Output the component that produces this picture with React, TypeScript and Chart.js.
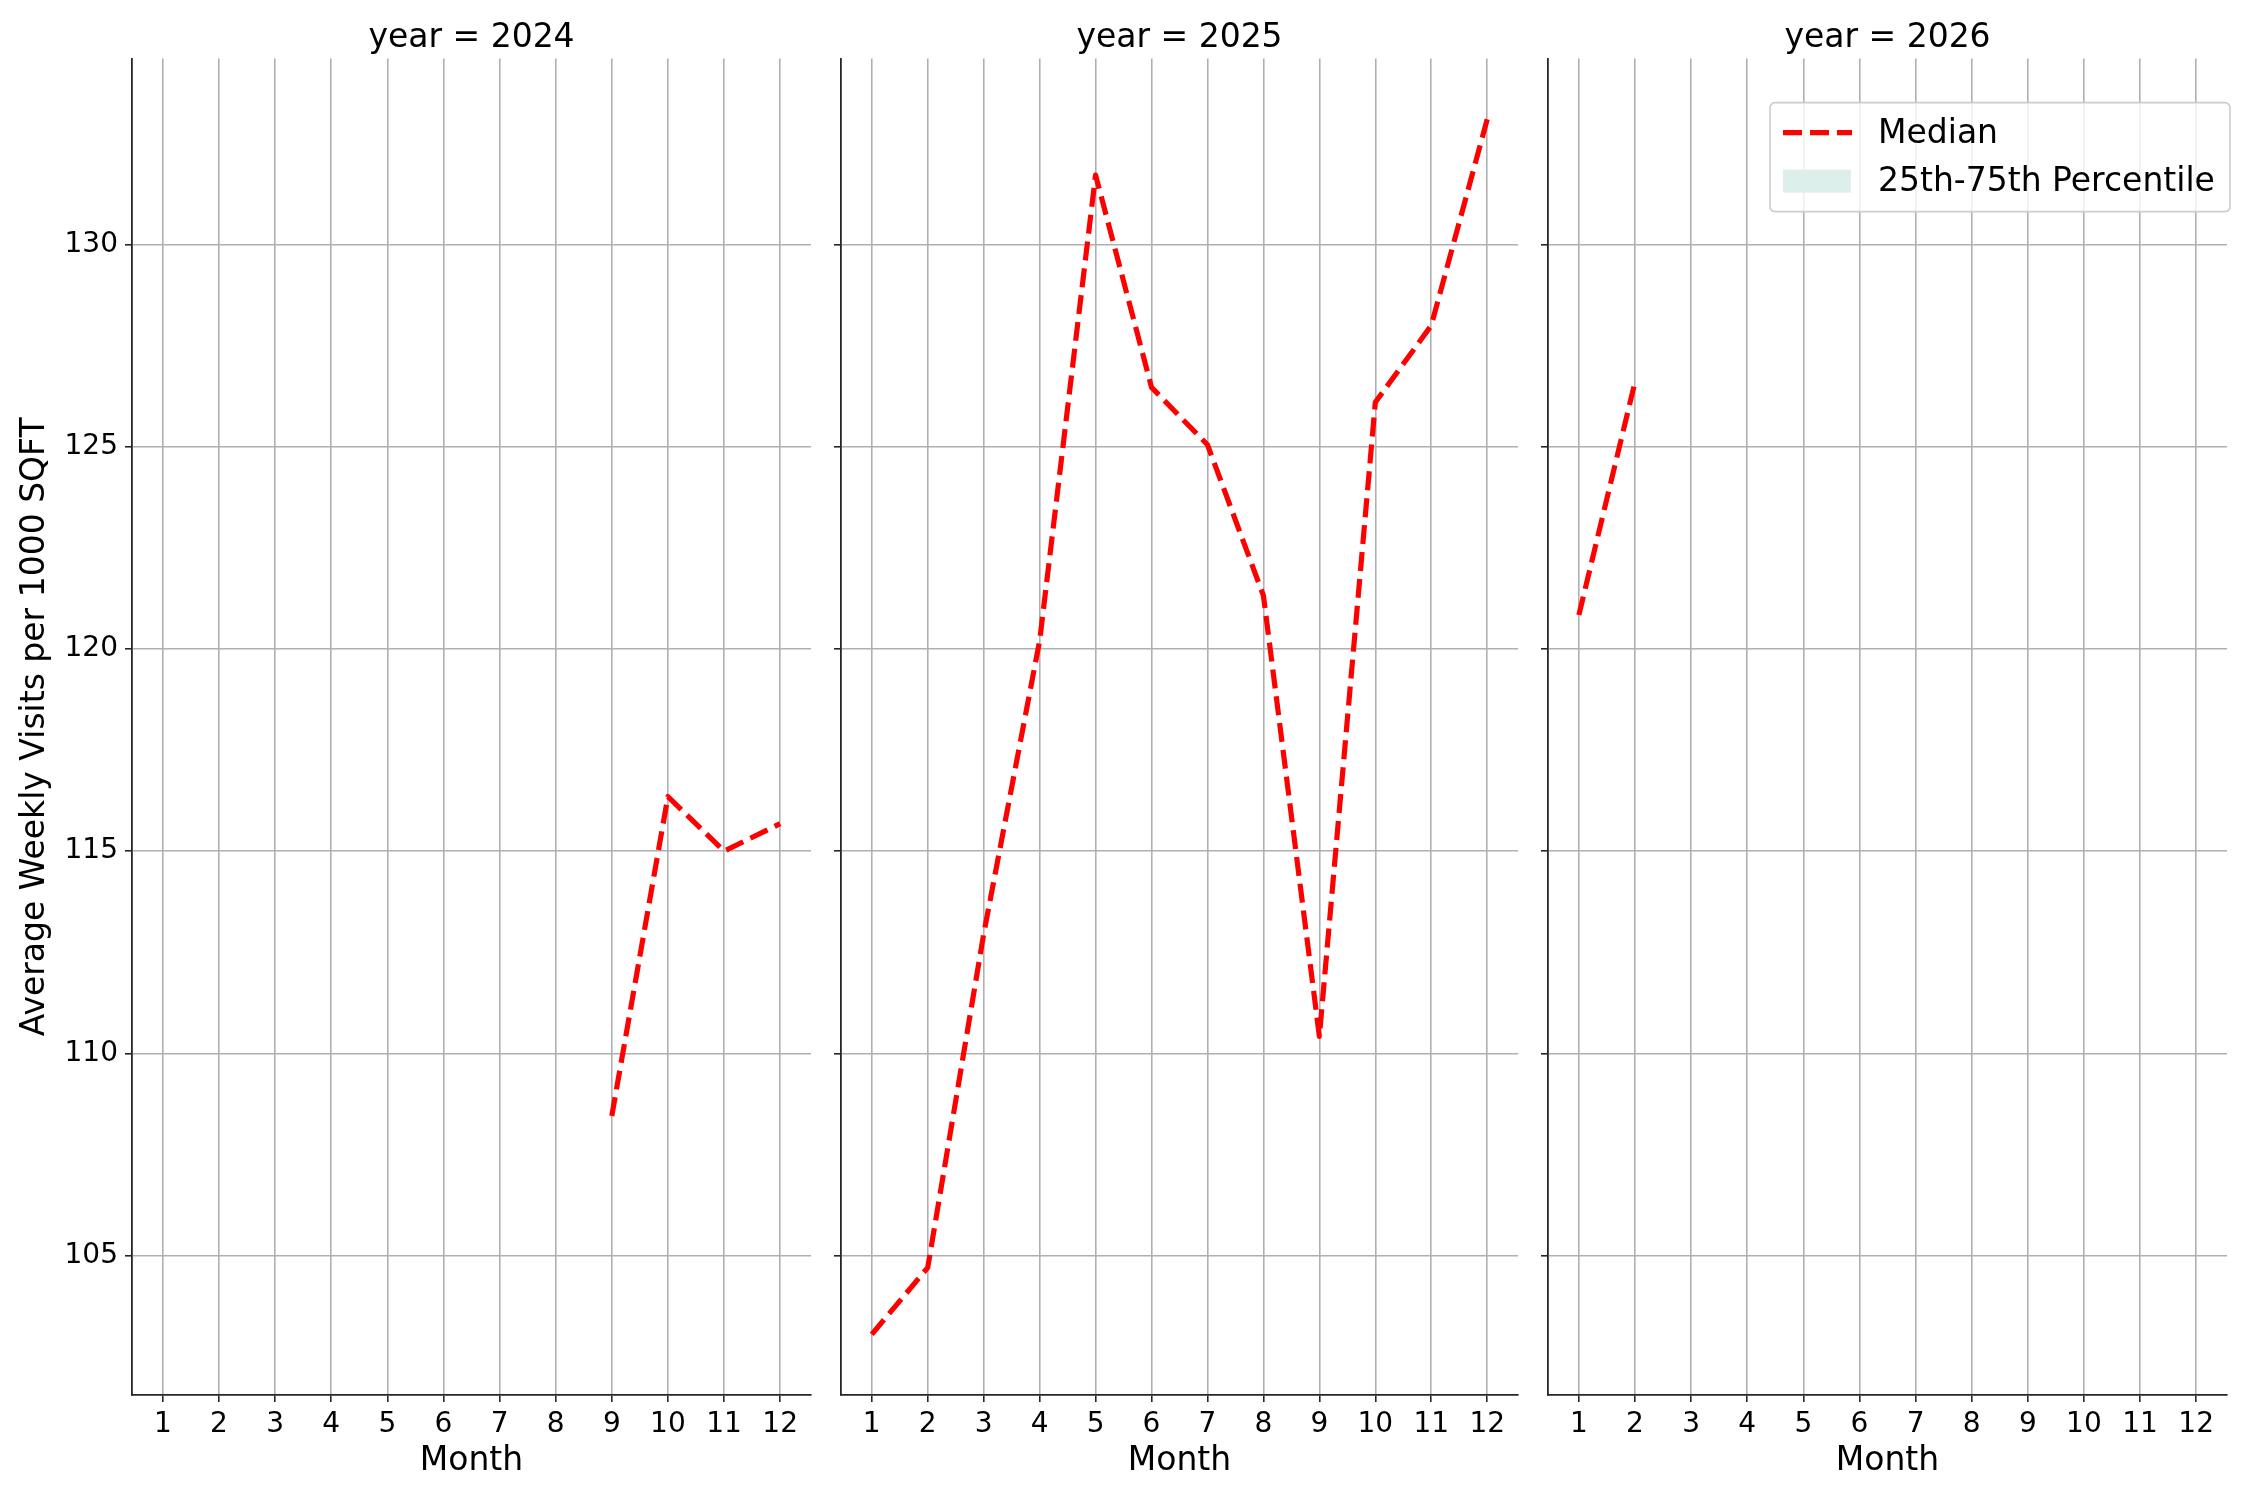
import { useEffect, useRef } from 'react'
import { Chart, registerables } from 'chart.js'

Chart.register(...registerables)

const months = [1, 2, 3, 4, 5, 6, 7, 8, 9, 10, 11, 12]
const yTicks = [105, 110, 115, 120, 125, 130]

const median2024 = [null, null, null, null, null, null, null, null, 108.45, 116.35, 115.0, 115.68]
const median2025 = [103.05, 104.7, 112.95, 120.2, 131.72, 126.47, 125.05, 121.32, 110.42, 126.1, 128.0, 133.1]
const median2026 = [120.84, 126.6, null, null, null, null, null, null, null, null, null, null]

const panels = [
  { year: 2024, values: median2024 },
  { year: 2025, values: median2025 },
  { year: 2026, values: median2026 },
]

const FONT = 'DejaVu Sans'
const GRID = '#b0b0b0'
const SPINE = '#262626'

// custom legend drawn inside the last panel (upper right)
const innerLegend = {
  id: 'innerLegend',
  afterDraw(chart: any, _args: any, opts: any) {
    if (!opts || !opts.show) return
    const { ctx, chartArea } = chart
    const right = chartArea.right + 3
    const left = right - 460
    const top = chartArea.top + 44
    const h = 109
    ctx.save()
    ctx.fillStyle = 'rgba(255,255,255,0.8)'
    ctx.strokeStyle = '#cccccc'
    ctx.lineWidth = 1.6
    ctx.beginPath()
    ctx.roundRect(left, top, right - left, h, 5)
    ctx.fill()
    ctx.stroke()
    ctx.font = `33px ${FONT}`
    ctx.textBaseline = 'middle'
    ctx.fillStyle = '#000'
    chart.data.datasets.forEach((ds: any, i: number) => {
      const y = top + 30 + i * 48
      if (ds.type === 'line' && !ds.fill) {
        ctx.strokeStyle = ds.borderColor
        ctx.lineWidth = ds.borderWidth
        ctx.setLineDash(ds.borderDash)
        ctx.beginPath()
        ctx.moveTo(left + 13, y)
        ctx.lineTo(left + 82, y)
        ctx.stroke()
        ctx.setLineDash([])
      } else {
        ctx.fillStyle = ds.backgroundColor
        ctx.fillRect(left + 13, y - 11, 68, 23)
      }
      ctx.fillStyle = '#000'
      ctx.fillText(ds.label, left + 108, y + 2)
    })
    ctx.restore()
  },
}

interface PanelProps {
  year: number
  values: (number | null)[]
  width: number
  yWidth: number
  showYLabels: boolean
  showLegend: boolean
}

function Panel({ year, values, width, yWidth, showYLabels, showLegend }: PanelProps) {
  const chartRef = useRef<HTMLCanvasElement>(null)

  useEffect(() => {
    if (!chartRef.current) return
    const ctx = chartRef.current.getContext('2d')
    if (!ctx) return

    const points = months
      .map((m, i) => ({ x: m, y: values[i] }))
      .filter(p => p.y !== null)

    const chart = new Chart(ctx, {
      type: 'line',
      data: {
        datasets: [
          {
            type: 'line',
            label: 'Median',
            data: points as any,
            borderColor: '#ff0000',
            borderWidth: 5.2,
            borderDash: [19, 8],
            borderJoinStyle: 'round',
            pointRadius: 0,
            tension: 0,
            fill: false,
          },
          {
            type: 'line',
            label: '25th-75th Percentile',
            data: [],
            backgroundColor: '#dcefea',
            borderWidth: 0,
            pointRadius: 0,
            fill: true,
          },
        ],
      },
      options: {
        responsive: false,
        animation: false,
        layout: { padding: { top: 0, right: 15, bottom: 0, left: 0 } },
        plugins: {
          legend: { display: false },
          tooltip: { enabled: false },
          title: {
            display: true,
            text: `year = ${year}`,
            color: '#000',
            font: { family: FONT, size: 33, weight: 'normal' },
            padding: { top: 19, bottom: 0 },
            fullSize: false,
          },
          innerLegend: { show: showLegend },
        } as any,
        scales: {
          x: {
            type: 'linear',
            min: 0.45,
            max: 12.55,
            afterBuildTicks: (axis: any) => {
              axis.ticks = months.map(v => ({ value: v }))
            },
            afterFit: (axis: any) => {
              axis.height = 105
            },
            grid: {
              color: GRID,
              lineWidth: 1.6,
              drawTicks: true,
              tickLength: 7,
              tickColor: SPINE,
              tickWidth: 1.6,
            },
            border: { display: true, color: SPINE, width: 1.8 },
            ticks: {
              color: '#000',
              font: { family: FONT, size: 28 },
              padding: 6,
              maxRotation: 0,
              autoSkip: false,
            },
            title: {
              display: true,
              text: 'Month',
              color: '#000',
              font: { family: FONT, size: 33 },
              padding: { top: 0, bottom: 19 },
            },
          },
          y: {
            type: 'linear',
            min: 101.55,
            max: 134.6,
            afterBuildTicks: (axis: any) => {
              axis.ticks = yTicks.map(v => ({ value: v }))
            },
            afterFit: (axis: any) => {
              axis.width = yWidth
            },
            grid: {
              color: GRID,
              lineWidth: 1.6,
              drawTicks: true,
              tickLength: 7,
              tickColor: SPINE,
              tickWidth: 1.6,
            },
            border: { display: true, color: SPINE, width: 1.8 },
            ticks: {
              display: showYLabels,
              color: '#000',
              font: { family: FONT, size: 28 },
              padding: 7,
            },
            title: {
              display: showYLabels,
              text: 'Average Weekly Visits per 1000 SQFT',
              color: '#000',
              font: { family: FONT, size: 33 },
              padding: { top: 16, bottom: 0 },
            },
          },
        },
      },
      plugins: [innerLegend],
    })

    return () => {
      chart.destroy()
    }
  }, [year, values, yWidth, showYLabels, showLegend])

  return <canvas ref={chartRef} width={width} height={1500} style={{ display: 'block' }} />
}

export default function App() {
  return (
    <div style={{ position: 'absolute', left: 0, top: 0, width: 2250, height: 1500, background: '#fff', display: 'flex' }}>
      <Panel {...panels[0]} width={826} yWidth={132} showYLabels={true} showLegend={false} />
      <Panel {...panels[1]} width={707} yWidth={15} showYLabels={false} showLegend={false} />
      <Panel {...panels[2]} width={709} yWidth={15} showYLabels={false} showLegend={true} />
    </div>
  )
}
